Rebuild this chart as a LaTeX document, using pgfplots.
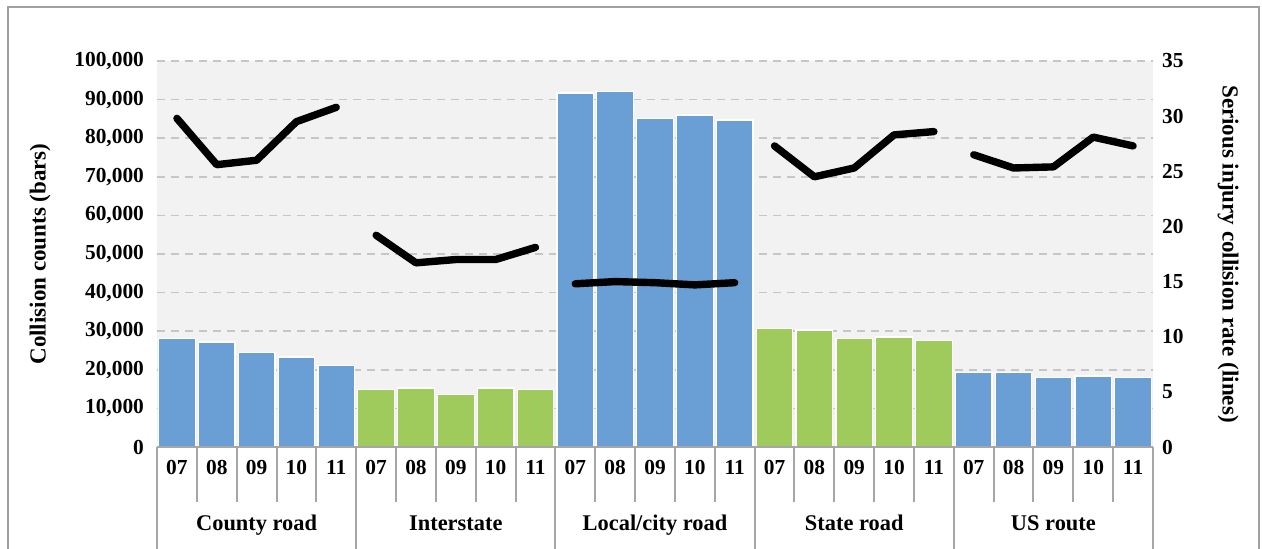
\documentclass[border=0pt]{standalone}
\usepackage{fontspec}
\setmainfont{Liberation Serif}
\usepackage{pgfplots}
\pgfplotsset{compat=1.18}

\definecolor{barblue}{HTML}{6A9FD6}
\definecolor{bargreen}{HTML}{9FCB5D}
\definecolor{plotbg}{HTML}{F2F2F2}
\definecolor{gridgray}{HTML}{C6C6C6}
\definecolor{sepgray}{HTML}{A6A6A6}
\definecolor{framegray}{HTML}{A0A0A0}

\begin{document}
\begin{tikzpicture}[font=\fontsize{10.7}{12}\selectfont\bfseries]
\useasboundingbox (-78.5pt,-50.5pt) rectangle (552.5pt,223.5pt);
\draw[framegray, line width=1.2pt] (-74.5pt,-60pt) -- (-74.5pt,220pt) -- (551pt,220pt) -- (551pt,-60pt);
\begin{axis}[
  name=ax, at={(0,0)}, anchor=south west,
  scale only axis, width=498pt, height=193pt,
  xmin=-0.5, xmax=24.5, ymin=0, ymax=100000,
  axis background/.style={fill=plotbg},
  axis line style={draw=none},
  major tick length=0pt,
  ytick={0,10000,20000,30000,40000,50000,60000,70000,80000,90000,100000},
  yticklabels={0,{10,000},{20,000},{30,000},{40,000},{50,000},{60,000},{70,000},{80,000},{90,000},{100,000}},
  scaled y ticks=false,
  yticklabel style={xshift=-3pt},
  ymajorgrids,
  grid style={gridgray, line width=0.8pt, dash pattern=on 4pt off 3pt},
  xtick={0,...,24},
  xticklabels={07,08,09,10,11,07,08,09,10,11,07,08,09,10,11,07,08,09,10,11,07,08,09,10,11},
  xticklabel style={anchor=center, yshift=-10pt},
]
\addplot[ybar, bar width=18.3pt, bar shift=0pt, fill=barblue, draw=white, line width=0.6pt]
  coordinates {(0,28200) (1,27200) (2,24400) (3,23300) (4,21200)
               (10,91700) (11,92000) (12,85200) (13,86000) (14,84700)
               (20,19200) (21,19400) (22,18100) (23,18400) (24,18100)};
\addplot[ybar, bar width=18.3pt, bar shift=0pt, fill=bargreen, draw=white, line width=0.6pt]
  coordinates {(5,15000) (6,15300) (7,13500) (8,15300) (9,14800)
               (15,30600) (16,30300) (17,28200) (18,28500) (19,27500)};
\end{axis}
\begin{axis}[
  at={(0,0)}, anchor=south west,
  scale only axis, width=498pt, height=193pt,
  xmin=-0.5, xmax=24.5, ymin=0, ymax=35,
  axis line style={draw=none},
  major tick length=0pt,
  xtick=\empty,
  axis y line*=right,
  ytick={0,5,10,15,20,25,30,35},
  yticklabels={0,5,10,15,20,25,30,35},
  yticklabel style={anchor=west, xshift=1pt},
]
\addplot[black, line width=3.7pt, line join=round, line cap=round]
  coordinates {(0,29.8) (1,25.6) (2,26.0) (3,29.5) (4,30.8)};
\addplot[black, line width=3.7pt, line join=round, line cap=round]
  coordinates {(5,19.2) (6,16.7) (7,17.0) (8,17.0) (9,18.1)};
\addplot[black, line width=3.7pt, line join=round, line cap=round]
  coordinates {(10,14.8) (11,15.0) (12,14.9) (13,14.7) (14,14.9)};
\addplot[black, line width=3.7pt, line join=round, line cap=round]
  coordinates {(15,27.3) (16,24.5) (17,25.3) (18,28.3) (19,28.6)};
\addplot[black, line width=3.7pt, line join=round, line cap=round]
  coordinates {(20,26.5) (21,25.3) (22,25.4) (23,28.1) (24,27.3)};
\end{axis}
% category axis decoration
\draw[sepgray, line width=1pt] (0,0) -- (498pt,0);
\foreach \i in {1,2,3,4,6,7,8,9,11,12,13,14,16,17,18,19,21,22,23,24}
  \draw[sepgray, line width=1pt] (\i*19.92pt,0) -- ++(0,-27.5pt);
\foreach \i in {0,5,10,15,20,25}
  \draw[sepgray, line width=1pt] (\i*19.92pt,0) -- ++(0,-60pt);
\foreach \i/\t in {0/{County road},1/{Interstate},2/{Local/city road},3/{State road},4/{US route}}
  \node[anchor=base, inner sep=0pt, font=\fontsize{11.2}{13}\selectfont\bfseries] at ({(\i*5+2.5)*19.92pt},-41.5pt) {\t};
\node[rotate=90, inner sep=0pt, font=\fontsize{11.5}{13}\selectfont\bfseries] at (-58.5pt,96.5pt) {Collision counts (bars)};
\node[rotate=-90, inner sep=0pt, font=\fontsize{11.5}{13}\selectfont\bfseries] at (535.5pt,96.5pt) {Serious injury collision rate (lines)};
\end{tikzpicture}
\end{document}
